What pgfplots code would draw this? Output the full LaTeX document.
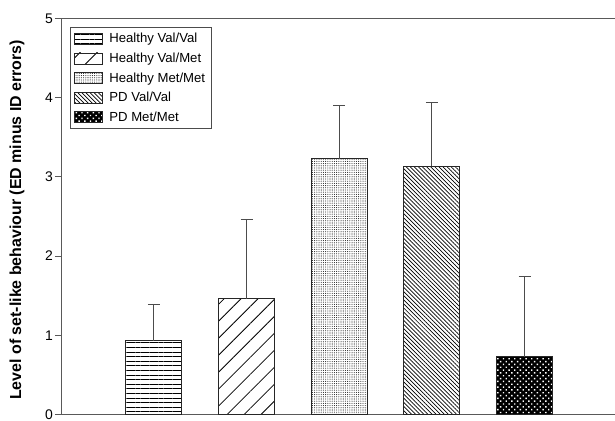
\documentclass[border=0pt]{standalone}
\usepackage{fontspec}
\setmainfont{Liberation Sans}
\usepackage{pgfplots}
\pgfplotsset{compat=1.18}
\usetikzlibrary{patterns.meta}

\begin{document}
\begin{tikzpicture}
\begin{axis}[
    scale only axis,
    width=553.5bp, height=396.2bp,
    xmin=0.004, xmax=5.975,
    ymin=0, ymax=5,
    ytick={0,1,2,3,4,5},
    xtick=\empty,
    axis x line*=box, axis y line*=left,
    axis line style={black!65, line width=1bp},
    tick align=outside, major tick length=6.5bp,
    tick style={black!65, line width=1bp},
    ytick pos=left,
    /pgf/number format/assume math mode=true,
    yticklabel style={font=\fontsize{14}{14}\selectfont, inner sep=2bp},
    ylabel={Level of set-like behaviour (ED minus ID errors)},
    ylabel style={font=\bfseries\fontsize{16}{16}\selectfont,
        at={(axis description cs:-0.0804,0.491)}, anchor=center},
    ybar, bar width=0.604,
    every axis plot/.append style={bar shift=0pt, draw=black!85, line width=0.9bp,
        legend image code/.code={\draw[##1] (0bp,-5.5bp) rectangle (28bp,5.5bp); \path (32bp,0bp);}},
    legend style={at={(axis description cs:0.0154,0.977)}, anchor=north west,
        draw=black!70, line width=0.9bp, font=\fontsize{13.2}{15}\selectfont,
        row sep=4.6bp, inner xsep=4bp, inner ysep=3.5bp},
    legend cell align=left,
    error bars/y dir=plus, error bars/y explicit,
    error bars/error bar style={black!70, line width=1bp},
    error bars/error mark options={rotate=90, mark size=6bp, black!70, line width=1bp},
    clip=false,
]
% bars: mean with upper error
\addplot[pattern={Lines[angle=0, distance=4.6bp, line width=0.7bp]}]
    coordinates {(1,0.93) +- (0,0.46)};
\addplot[pattern={Lines[angle=45, distance=12bp, line width=0.8bp]}]
    coordinates {(2,1.46) +- (0,1.00)};
\addplot[pattern={Dots[distance=2.2bp, radius=0.55bp]}, pattern color=black!85]
    coordinates {(3,3.23) +- (0,0.67)};
\addplot[pattern={Lines[angle=-45, distance=2.9bp, line width=0.7bp]}]
    coordinates {(4,3.13) +- (0,0.81)};
\addplot[fill=black, postaction={pattern={Dots[distance=4bp, radius=1bp, angle=45]}, pattern color=white}]
    coordinates {(5,0.73) +- (0,1.01)};
\legend{Healthy Val/Val, Healthy Val/Met, Healthy Met/Met, PD Val/Val, PD Met/Met}
\coordinate (ll) at (rel axis cs:0,0);
\coordinate (ur) at (rel axis cs:1,1);
\end{axis}
\pgfresetboundingbox
\path ([xshift=-61.5bp,yshift=-6.5bp]ll) rectangle ([yshift=18.3bp]ur);
\end{tikzpicture}
\end{document}
